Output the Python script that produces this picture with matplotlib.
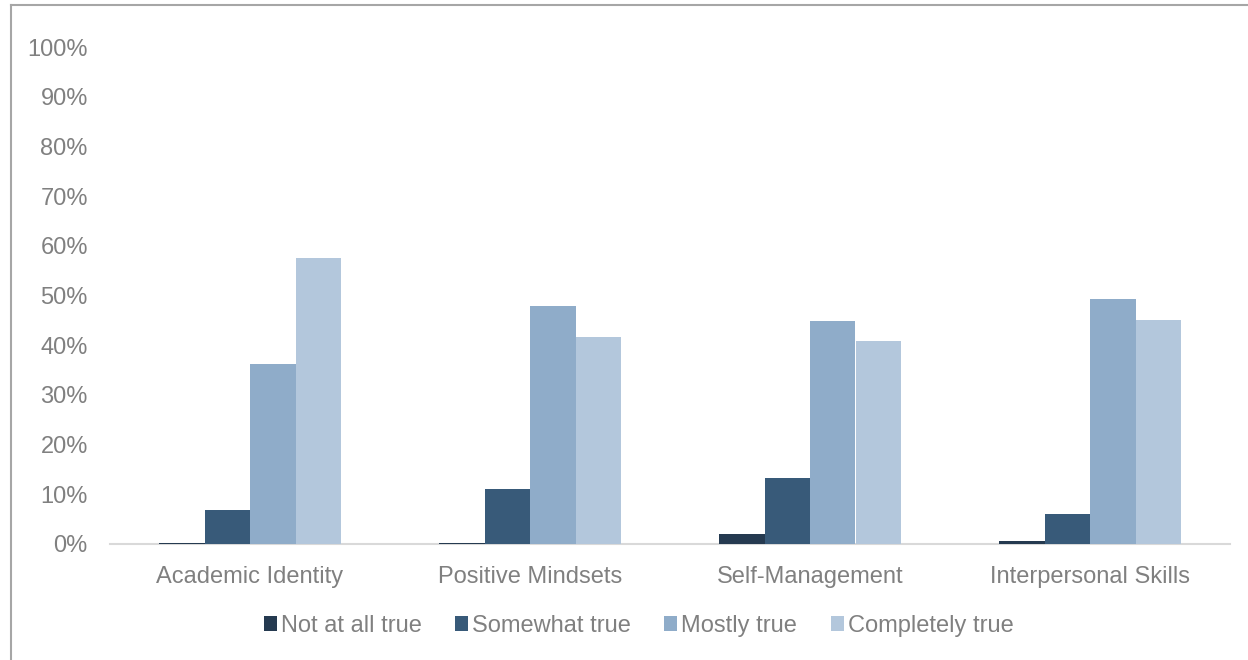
import numpy as np
import matplotlib
matplotlib.use("Agg")
import matplotlib.pyplot as plt
from matplotlib.lines import Line2D
from matplotlib.ticker import PercentFormatter

plt.rcParams['font.family'] = ['Liberation Sans', 'DejaVu Sans']

categories = ["Academic Identity", "Positive Mindsets", "Self-Management", "Interpersonal Skills"]
series_names = ["Not at all true", "Somewhat true", "Mostly true", "Completely true"]
not_at_all = [0.3, 0.3, 2.1, 0.7]
somewhat = [6.8, 11.1, 13.3, 6.0]
mostly = [36.2, 47.9, 44.8, 49.2]
completely = [57.6, 41.6, 40.8, 45.1]
series_values = [not_at_all, somewhat, mostly, completely]
colors = ["#253a50", "#385a79", "#8facc9", "#b3c7dc"]
yticks = [0, 10, 20, 30, 40, 50, 60, 70, 80, 90, 100]

text_color = "#808080"
font_size = 17

fig = plt.figure(figsize=(12.48, 6.6), dpi=100)
ax = fig.add_axes([110 / 1248, (660 - 544) / 660, 1120 / 1248, 497 / 660])

x = np.arange(len(categories))
bar_w = 0.1625
offsets = (np.arange(len(series_names)) - 1.5) * bar_w
for vals, off, col, name in zip(series_values, offsets, colors, series_names):
    ax.bar(x + off, vals, width=bar_w, color=col, label=name, zorder=3)

ax.set_xlim(-0.5, len(categories) - 0.5)
ax.set_ylim(0, 100)
ax.set_yticks(yticks)
ax.yaxis.set_major_formatter(PercentFormatter(decimals=0))
ax.set_xticks(x)
ax.set_xticklabels(categories)

for side in ["top", "right", "left"]:
    ax.spines[side].set_visible(False)
ax.spines["bottom"].set_color("#d9d9d9")
ax.spines["bottom"].set_linewidth(1.5)
ax.spines["bottom"].set_zorder(2)
ax.tick_params(axis="both", length=0, labelsize=font_size, colors=text_color)
ax.tick_params(axis="y", pad=16)
ax.tick_params(axis="x", pad=16)

leg = ax.legend(loc="upper center", bbox_to_anchor=(0.472, -0.1), ncol=4, frameon=False,
                fontsize=font_size, handlelength=0.55, handleheight=0.55, handletextpad=0.17,
                columnspacing=1.42, labelcolor=text_color)

# outer chart frame (top and left edges)
fig.add_artist(Line2D([11 / 1248, 11 / 1248], [0, 1 - 5 / 660], transform=fig.transFigure,
                      color="#a6a6a6", linewidth=1.5))
fig.add_artist(Line2D([11 / 1248, 1], [1 - 5 / 660, 1 - 5 / 660], transform=fig.transFigure,
                      color="#a6a6a6", linewidth=1.5))

fig.savefig("out.png", dpi=100, facecolor="white")
